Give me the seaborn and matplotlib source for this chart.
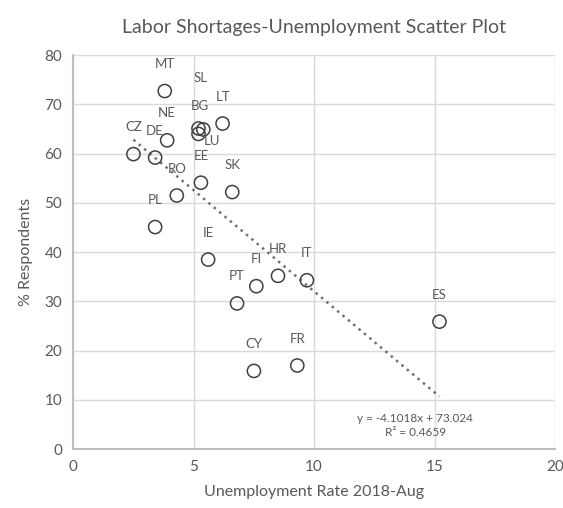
import numpy as np
import pandas as pd
import matplotlib
matplotlib.use("Agg")
import matplotlib.pyplot as plt
import seaborn as sns

# datos
paises = ['MT', 'SL', 'BG', 'LU', 'LT', 'NE', 'CZ', 'DE', 'EE', 'SK',
          'RO', 'PL', 'IE', 'FI', 'HR', 'IT', 'PT', 'ES', 'CY', 'FR']
desempleo = [3.8, 5.4, 5.2, 5.2, 6.2, 3.9, 2.5, 3.4, 5.3, 6.6,
             4.3, 3.4, 5.6, 7.6, 8.5, 9.7, 6.8, 15.2, 7.5, 9.3]
escasez = [72.7, 64.9, 65.1, 64.0, 66.1, 62.7, 59.9, 59.2, 54.1, 52.2,
           51.5, 45.1, 38.5, 33.1, 35.2, 34.3, 29.6, 25.9, 15.9, 17.0]
ecuacion = 'y = -4.1018x + 73.024'
r2_texto = 'R² = 0.4659'

df = pd.DataFrame({'pais': paises, 'x': desempleo, 'y': escasez})

sns.set_theme(style="white")
plt.rcParams['font.family'] = ['Lato', 'DejaVu Sans']
gris = '#595959'

fig = plt.figure(figsize=(5.63, 5.08), dpi=100)
ax = fig.add_axes([0.130, 0.1156, 0.856, 0.776])

# linea de tendencia (minimos cuadrados) punteada
sns.regplot(data=df, x='x', y='y', ax=ax, scatter=False, ci=None,
            line_kws={'color': '#707070', 'linestyle': (0, (1, 1.8)), 'linewidth': 1.8})
sns.scatterplot(data=df, x='x', y='y', ax=ax, s=90, facecolor='none',
                edgecolor='#404040', linewidth=1.1, zorder=3)

# desplazamiento de las etiquetas en pixeles
desp = {p: (0, 27) for p in paises}
desp['SL'] = (-3, 51)
desp['BG'] = (1, 22)
desp['LU'] = (14, -7)
for _, fila in df.iterrows():
    ax.annotate(fila['pais'], (fila['x'], fila['y']), xytext=desp[fila['pais']],
                textcoords='offset pixels', ha='center', va='center',
                fontsize=9.5, color=gris)

ax.text(14.2, 4.8, ecuacion + '\n' + r2_texto, ha='center', va='center',
        fontsize=8.5, color=gris, linespacing=1.25)

ax.set_xlim(0, 20)
ax.set_ylim(0, 80)
ax.set_xticks(range(0, 21, 5))
ax.set_yticks(range(0, 81, 10))
ax.grid(True, color='#d9d9d9', linewidth=1)
ax.set_axisbelow(True)
for lado in ['top', 'right']:
    ax.spines[lado].set_visible(False)
for lado in ['left', 'bottom']:
    ax.spines[lado].set_color('#bfbfbf')
    ax.spines[lado].set_linewidth(1.5)
ax.tick_params(colors=gris, labelsize=11, length=0, pad=8)

ax.set_xlabel('Unemployment Rate 2018-Aug', fontsize=11.5, color=gris, labelpad=8)
ax.set_ylabel('% Respondents', fontsize=11.5, color=gris, labelpad=8)
ax.set_title('Labor Shortages-Unemployment Scatter Plot', fontsize=14,
             color=gris, pad=16)

fig.savefig('out.png', dpi=100)
